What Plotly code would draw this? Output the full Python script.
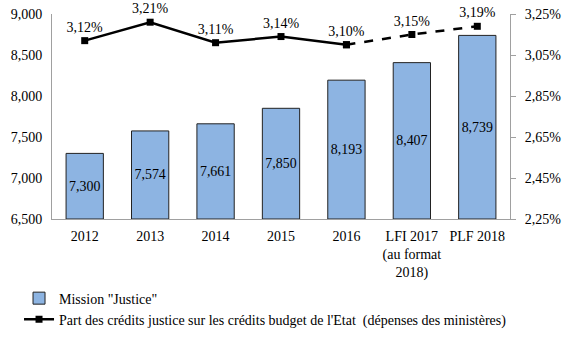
import plotly.graph_objects as go

categories = ["2012", "2013", "2014", "2015", "2016", "LFI 2017<br>(au format<br>2018)", "PLF 2018"]
mission_justice = [7300, 7574, 7661, 7850, 8193, 8407, 8739]
part_credits = [3.12, 3.21, 3.11, 3.14, 3.10, 3.15, 3.19]
left_ticks = [6500, 7000, 7500, 8000, 8500, 9000]
right_ticks = [2.25, 2.45, 2.65, 2.85, 3.05, 3.25]
axis_floor = 6500

FONT = "Liberation Serif"
pct = lambda v: f"{v:.2f}".replace(".", ",") + "%"

fig = go.Figure()
fig.add_trace(go.Bar(
    x=categories, y=[v - axis_floor for v in mission_justice], base=axis_floor,
    name='Mission "Justice"',
    marker=dict(color="#8DB4E2", line=dict(color="#222222", width=1)),
    width=0.57,
    text=[f"{v:,}" for v in mission_justice], textposition="inside",
    insidetextanchor="middle", textfont=dict(color="black", size=14, family=FONT),
    textangle=0,
))
solid_n = 5
fig.add_trace(go.Scatter(
    x=categories[:solid_n], y=part_credits[:solid_n], yaxis="y2",
    name="Part des crédits justice sur les crédits budget de l'Etat  (dépenses des ministères)",
    mode="lines+markers+text", line=dict(color="black", width=2.5),
    marker=dict(symbol="square", size=7, color="black"),
    text=[pct(v) for v in part_credits[:solid_n]], textposition="top center",
    textfont=dict(color="black", size=14, family=FONT), cliponaxis=False,
))
fig.add_trace(go.Scatter(
    x=categories[solid_n - 1:], y=part_credits[solid_n - 1:], yaxis="y2",
    mode="lines+markers+text", line=dict(color="black", width=2.5, dash="dash"),
    marker=dict(symbol="square", size=7, color="black"),
    text=[""] + [pct(v) for v in part_credits[solid_n:]], textposition="top center",
    textfont=dict(color="black", size=14, family=FONT), cliponaxis=False,
    showlegend=False,
))

fig.update_layout(
    width=567, height=342,
    margin=dict(l=52, r=57, t=14, b=123, autoexpand=False),
    paper_bgcolor="white", plot_bgcolor="white",
    font=dict(family=FONT, size=14, color="black"),
    bargap=0.43,
    xaxis=dict(type="category", showline=True, linecolor="#A0A0A0", linewidth=1, ticks="",
               tickfont=dict(size=14, family=FONT), showgrid=False, ticklabelstandoff=4),
    yaxis=dict(range=[6500, 9000], tickvals=left_ticks,
               ticktext=[f"{v:,}" for v in left_ticks], tickfont=dict(size=14, family=FONT),
               showline=True, linecolor="#A0A0A0", linewidth=1, showgrid=False,
               ticks="", zeroline=False, ticklabelstandoff=6),
    yaxis2=dict(range=[2.25, 3.25], overlaying="y", side="right",
                tickvals=right_ticks, ticktext=[pct(v) for v in right_ticks],
                tickfont=dict(size=14, family=FONT),
                showline=True, linecolor="#A0A0A0", linewidth=1, showgrid=False,
                ticks="outside", ticklen=5, tickcolor="#A0A0A0", zeroline=False,
                ticklabelstandoff=6),
    legend=dict(x=-0.072, y=-0.31, xanchor="left", yanchor="top", orientation="v",
                font=dict(size=14, family=FONT), tracegroupgap=4, itemwidth=30),
    showlegend=True,
)

fig.write_html("out.html")
